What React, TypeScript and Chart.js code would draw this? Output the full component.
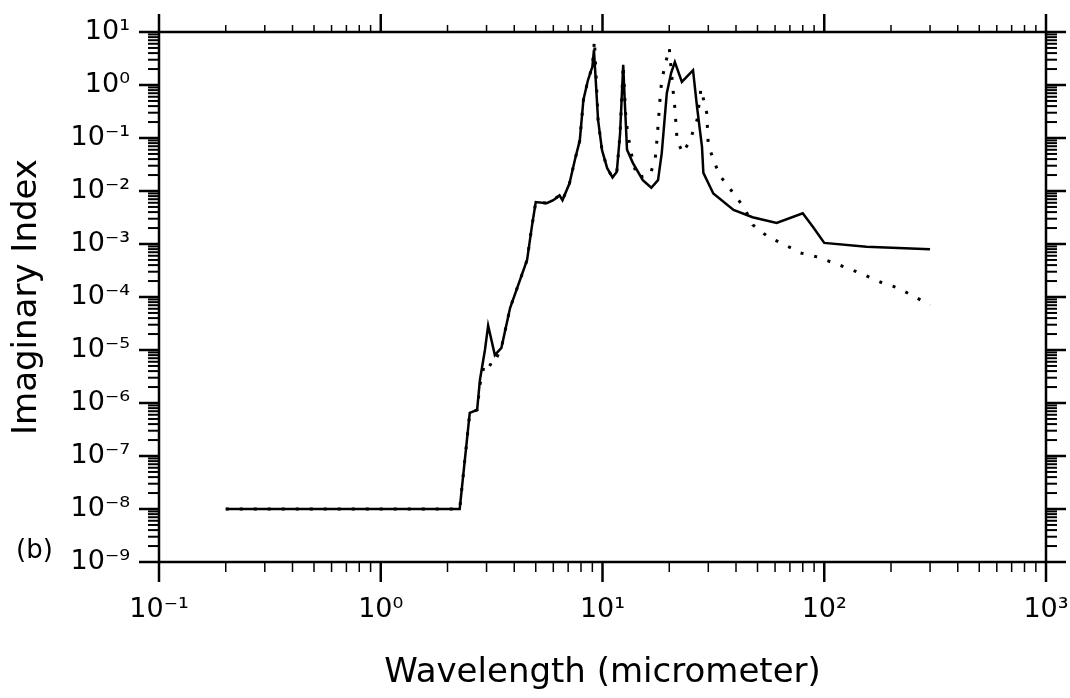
import { useEffect, useRef } from 'react';
import { Chart, registerables } from 'chart.js';

Chart.register(...registerables);

// Wavelength (micrometer) and imaginary index, solid curve
const solidWavelength = [
  0.2, 2.27, 2.52, 2.72, 2.8, 2.95, 3.05, 3.27, 3.5, 3.83, 4.57, 4.8, 5.0, 5.6, 6.0, 6.4, 6.6,
  7.1, 7.5, 7.9, 8.2, 8.6, 9.0, 9.15, 9.55, 9.95, 10.5, 11.1, 11.6, 12.0, 12.4, 12.6, 12.9, 13.7,
  15.2, 16.6, 17.8, 18.5, 19.5, 20.4, 21.2, 22.8, 25.6, 26.7, 28.1, 28.5, 31.6, 39, 47.5, 61, 80,
  89, 100, 155, 300,
];
const solidIndex = [
  1e-8, 1e-8, 6.5e-7, 7.4e-7, 2.7e-6, 1e-5, 2.9e-5, 8e-6, 1.1e-5, 6.2e-5, 5e-4, 2.1e-3, 6.2e-3,
  5.9e-3, 6.7e-3, 8.3e-3, 6.7e-3, 0.014, 0.038, 0.09, 0.52, 1.24, 2.2, 4.6, 0.22, 0.059, 0.027,
  0.018, 0.023, 0.12, 2.4, 0.5, 0.06, 0.034, 0.016, 0.0115, 0.016, 0.052, 0.7, 1.7, 2.7, 1.14,
  1.9, 0.38, 0.068, 0.022, 0.009, 0.0044, 0.0032, 0.0025, 0.0038, 0.0021, 0.00105, 8.9e-4, 8e-4,
];

// Dotted curve
const dottedWavelength = [
  0.2, 2.27, 2.52, 2.72, 2.8, 2.95, 3.2, 3.5, 3.83, 4.57, 4.8, 5.0, 5.6, 6.0, 6.4, 6.6, 7.1, 7.5,
  7.9, 8.2, 8.6, 9.0, 9.2, 9.55, 9.95, 10.5, 11.1, 11.6, 12.0, 12.4, 12.7, 13.0, 13.5, 14.3, 16.4,
  17.3, 17.6, 18.2, 18.5, 19.3, 20.0, 20.8, 21.2, 21.7, 23.0, 24.8, 26.7, 27.8, 29.5, 30.0, 32, 34,
  39, 43.6, 47.6, 56, 67, 78, 93, 110, 130, 155, 180, 213, 252, 300,
];
const dottedIndex = [
  1e-8, 1e-8, 6.5e-7, 7.4e-7, 2.2e-6, 6e-6, 5e-6, 1.1e-5, 6.2e-5, 5e-4, 2.1e-3, 6.2e-3, 5.9e-3,
  6.7e-3, 8.3e-3, 6.7e-3, 0.014, 0.038, 0.09, 0.52, 1.24, 2.2, 7, 0.22, 0.059, 0.027, 0.018, 0.023,
  0.12, 2.4, 0.3, 0.12, 0.05, 0.018, 0.02, 0.042, 0.09, 0.59, 1.24, 2.7, 5, 0.8, 0.37, 0.09, 0.052,
  0.09, 0.22, 0.85, 0.3, 0.074, 0.034, 0.019, 0.009, 0.0048, 0.0023, 0.00135, 9.5e-4, 6.8e-4,
  5.7e-4, 4.4e-4, 3.4e-4, 2.5e-4, 1.9e-4, 1.5e-4, 1.05e-4, 7e-5,
];

const xTickValues = [0.1, 1, 10, 100, 1000];
const yTickValues = [1e-9, 1e-8, 1e-7, 1e-6, 1e-5, 1e-4, 1e-3, 1e-2, 1e-1, 1, 10];
const xTitle = 'Wavelength (micrometer)';
const yTitle = 'Imaginary Index';
const panelLabel = '(b)';

const FONT = "'DejaVu Sans', 'Liberation Sans', sans-serif";

const SUP: Record<string, string> = {
  '-': '\u207B', '0': '\u2070', '1': '\u00B9', '2': '\u00B2', '3': '\u00B3', '4': '\u2074',
  '5': '\u2075', '6': '\u2076', '7': '\u2077', '8': '\u2078', '9': '\u2079',
};
const powLabel = (v: number) => {
  const e = Math.round(Math.log10(v));
  return '10' + String(e).split('').map((c) => SUP[c] || c).join('');
};

const framePlugin = {
  id: 'frameTicks',
  afterDraw(chart: any) {
    const { ctx, chartArea, scales } = chart;
    const { left, right, top, bottom } = chartArea;
    const xs = scales.x;
    const ys = scales.y;
    ctx.save();
    ctx.strokeStyle = '#000';
    ctx.lineCap = 'butt';
    const line = (x1: number, y1: number, x2: number, y2: number) => {
      ctx.beginPath();
      ctx.moveTo(x1, y1);
      ctx.lineTo(x2, y2);
      ctx.stroke();
    };
    ctx.lineWidth = 2.5;
    ctx.strokeRect(left, top, right - left, bottom - top);
    for (let e = -1; e <= 3; e++) {
      for (let m = 1; m <= 9; m++) {
        const v = m * Math.pow(10, e);
        if (v > 1000.0001) continue;
        const px = xs.getPixelForValue(v);
        const major = m === 1;
        ctx.lineWidth = major ? 2.5 : 1.5;
        line(px, bottom, px, bottom + (major ? 20 : 10));
        line(px, top, px, top - (major ? 18 : 7));
      }
    }
    for (let e = -9; e <= 1; e++) {
      for (let m = 1; m <= 9; m++) {
        const v = m * Math.pow(10, e);
        if (v > 10.0001) continue;
        const py = ys.getPixelForValue(v);
        const major = m === 1;
        ctx.lineWidth = major ? 2.5 : 2;
        line(left, py, left - (major ? 20 : 11), py);
        line(right, py, right + (major ? 20 : 11), py);
      }
    }
    ctx.fillStyle = '#000';
    ctx.font = `26px ${FONT}`;
    ctx.textBaseline = 'middle';
    ctx.textAlign = 'left';
    ctx.fillText(panelLabel, 16, 551);
    ctx.restore();
  },
};

export default function App() {
  const ref = useRef<HTMLCanvasElement>(null);
  useEffect(() => {
    const chart = new Chart(ref.current as HTMLCanvasElement, {
      type: 'line',
      data: {
        datasets: [
          {
            data: solidWavelength.map((x, i) => ({ x, y: solidIndex[i] })),
            borderColor: '#000',
            borderWidth: 2.5,
            pointRadius: 0,
            tension: 0,
            fill: false,
          },
          {
            data: dottedWavelength.map((x, i) => ({ x, y: dottedIndex[i] })),
            borderColor: '#000',
            borderWidth: 3,
            borderDash: [3, 11],
            pointRadius: 0,
            tension: 0,
            fill: false,
          },
        ],
      },
      options: {
        responsive: false,
        animation: false,
        events: [],
        layout: { padding: { left: 0, top: 32, right: 24, bottom: 0 } },
        plugins: { legend: { display: false }, tooltip: { enabled: false } },
        scales: {
          x: {
            type: 'logarithmic',
            position: 'bottom',
            min: 0.1,
            max: 1000,
            afterBuildTicks: (s: any) => {
              s.ticks = xTickValues.map((v) => ({ value: v }));
            },
            afterFit: (s: any) => {
              s.height = 136;
              s.paddingLeft = 0;
              s.paddingRight = 0;
            },
            grid: { display: false, drawTicks: false },
            border: { display: false },
            ticks: {
              autoSkip: false,
              maxRotation: 0,
              padding: 32,
              color: '#000',
              font: { family: FONT, size: 27 },
              callback: (v: any) => powLabel(Number(v)),
            },
            title: {
              display: true,
              text: xTitle,
              color: '#000',
              font: { family: FONT, size: 34 },
              padding: { top: 0, bottom: 4 },
            },
          },
          y: {
            type: 'logarithmic',
            position: 'left',
            min: 1e-9,
            max: 10,
            afterBuildTicks: (s: any) => {
              s.ticks = yTickValues.map((v) => ({ value: v }));
            },
            afterFit: (s: any) => {
              s.width = 159;
              s.paddingTop = 0;
              s.paddingBottom = 0;
            },
            grid: { display: false, drawTicks: false },
            border: { display: false },
            ticks: {
              autoSkip: false,
              padding: 29,
              color: '#000',
              font: { family: FONT, size: 27 },
              callback: (v: any) => powLabel(Number(v)),
            },
            title: {
              display: true,
              text: yTitle,
              color: '#000',
              font: { family: FONT, size: 34 },
              padding: { top: 7, bottom: 0 },
            },
          },
        },
      },
      plugins: [framePlugin],
    } as any);
    return () => chart.destroy();
  }, []);
  return (
    <div style={{ position: 'fixed', left: 0, top: 0, width: 1070, height: 698, background: '#fff' }}>
      <canvas ref={ref} width={1070} height={698} style={{ display: 'block' }} />
    </div>
  );
}
